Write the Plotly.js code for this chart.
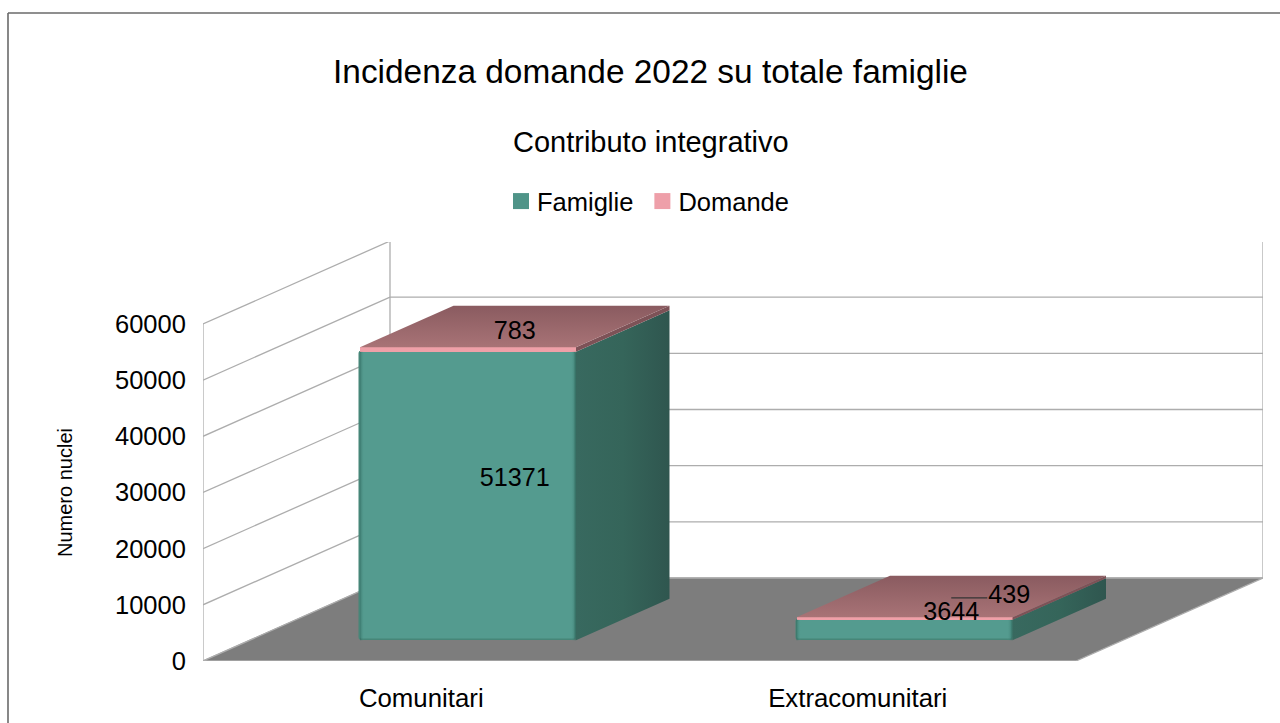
<!DOCTYPE html>
<html>
<head>
<meta charset="utf-8">
<script src="https://cdn.plot.ly/plotly-3.0.1.min.js"></script>
<style>html,body{margin:0;padding:0;background:#fff}#chart{width:1280px;height:723px}
.legend .legendpoints{transform:translateX(4px)}</style>
</head>
<body>
<div id="chart"></div>
<script>
// ---- data ----
const categories = ['Comunitari', 'Extracomunitari'];
const famiglie = [51371, 3644];
const domande = [783, 439];
const seriesNames = ['Famiglie', 'Domande'];
const tickValues = [0, 10000, 20000, 30000, 40000, 50000, 60000];
const titleText = 'Incidenza domande 2022 su totale famiglie';
const subtitleText = 'Contributo integrativo';
const yTitleText = 'Numero nuclei';

// ---- oblique projection (plot area in px, depth in axis units) ----
const L = 203, R = 17, T = 242, B = 62, W = 1280, H = 723;
const plotW = W - L - R, plotH = H - T - B;
const pxPerCat = 436.5, pxPer60k = 337;
const pxX = p => p / pxPerCat;                  // px -> x units
const pxY = p => p / pxPer60k * 60000;          // px -> y units
const depthX = pxX(187), depthY = pxY(83);      // full floor depth
const xMaxFloor = categories.length;
const barW = 216 / pxPerCat;
const fFront = 0.25, fBack = 0.75;              // bar position inside depth

const teal = '#549b8f', pink = '#efa0a8';
const cx = categories.map((c, i) => i + 0.5 + fFront * depthX);
const y0 = fFront * depthY;
const bd = (fBack - fFront);

// ---- back / side walls and floor, under the bars ----
const grid = {color: '#adadad', width: 1.3};
const shapes = [];
const seg = (x0, a, x1, b) => shapes.push({type: 'line', xref: 'x', yref: 'y', layer: 'below', x0, y0: a, x1, y1: b, line: grid});
const topV = tickValues[tickValues.length - 1];
tickValues.forEach(v => {
  seg(0, v, depthX, v + depthY);
  seg(depthX, v + depthY, xMaxFloor + depthX, v + depthY);
});
seg(depthX, depthY, depthX, topV + depthY);
seg(xMaxFloor + depthX, depthY, xMaxFloor + depthX, topV + depthY);
shapes.push({type: 'path', xref: 'x', yref: 'y', layer: 'below',
  path: `M0,0 L${xMaxFloor},0 L${xMaxFloor + depthX},${depthY} L${depthX},${depthY} Z`,
  fillcolor: '#7d7d7d', line: grid});
// outer chart frame (open on the right and bottom, as in the picture)
const frame = {color: '#6a6a6a', width: 1.6};
const px2paperX = p => (p - L) / plotW, px2paperY = p => (H - B - p) / plotH;
shapes.push({type: 'line', xref: 'paper', yref: 'paper', x0: px2paperX(8), x1: px2paperX(8), y0: px2paperY(H), y1: px2paperY(13), line: frame});
shapes.push({type: 'line', xref: 'paper', yref: 'paper', x0: px2paperX(8), x1: px2paperX(W), y0: px2paperY(13), y1: px2paperY(13), line: frame});

// ---- traces ----
const traces = [];
// front faces: real bars through the library's scale
traces.push({type: 'bar', x: cx, y: famiglie, base: categories.map(() => y0), width: barW,
  marker: {color: teal, cornerradius: 3, line: {color: '#468678', width: 1.5}}, showlegend: false, hoverinfo: 'skip'});
traces.push({type: 'bar', x: cx, y: domande, base: famiglie.map(v => y0 + v), width: barW,
  marker: {color: pink, line: {width: 0}}, showlegend: false, hoverinfo: 'skip'});

const poly = (xs, ys, grad, fill) => {
  const t = {type: 'scatter', mode: 'lines', x: xs.concat(xs[0]), y: ys.concat(ys[0]), fill: 'toself',
    line: {width: 0}, showlegend: false, hoverinfo: 'skip'};
  if (grad) t.fillgradient = grad; else t.fillcolor = fill;
  traces.push(t);
};
const sideGrad = {type: 'horizontal', colorscale: [[0, '#38695f'], [0.5, '#35655a'], [1, '#2f564f']]};
const topGrad = {type: 'vertical', colorscale: [[0, '#a87376'], [1, '#8a5b60']]};
const edgeGrad = {type: 'horizontal', colorscale: [[0, 'rgba(40,95,85,0.55)'], [0.02, 'rgba(84,155,143,0)'], [0.975, 'rgba(84,155,143,0)'], [1, 'rgba(40,95,85,0.6)']]};
categories.forEach((c, i) => {
  const xl = cx[i] - barW / 2, xr = cx[i] + barW / 2;
  const top1 = y0 + famiglie[i], top2 = top1 + domande[i];
  const ddx = bd * depthX, ddy = bd * depthY;
  poly([xl, xr, xr, xl], [y0, y0, top1, top1], edgeGrad);                                   // front face bevel
  poly([xr, xr + ddx, xr + ddx, xr], [y0, y0 + ddy, top1 + ddy, top1], sideGrad);           // side, Famiglie
  poly([xr, xr + ddx, xr + ddx, xr], [top1, top1 + ddy, top2 + ddy, top2], null, '#7d5257'); // side, Domande
  poly([xl, xr, xr + ddx, xl + ddx], [top2, top2, top2 + ddy, top2 + ddy], topGrad);        // top
});

// data labels, placed at the centre of each 3D block
const midX = cx.map(v => v + bd * depthX / 2);
const midFam = famiglie.map(v => y0 + v / 2 + bd * depthY / 2);
const midDom = famiglie.map((v, i) => y0 + v + domande[i] / 2 + bd * depthY / 2);
const moved = 1; // second Domande label was moved aside by the source chart
const shiftX = pxX(58), shiftY = pxY(5), leaderEnd = pxX(36), textNudge = pxY(4);
traces.push({type: 'scatter', mode: 'lines', x: [midX[moved], midX[moved] + leaderEnd], y: [midDom[moved], midDom[moved]],
  line: {color: '#333333', width: 1.2}, showlegend: false, hoverinfo: 'skip', cliponaxis: false});
const textFont = {family: 'Liberation Sans', size: 25.2, color: '#000'};
traces.push({type: 'scatter', mode: 'text', x: midX, y: midFam.map(v => v - textNudge), text: famiglie.map(String), textposition: 'middle center',
  textfont: textFont, cliponaxis: false, showlegend: false, hoverinfo: 'skip'});
traces.push({type: 'scatter', mode: 'text',
  x: midX.map((v, i) => i === moved ? v + shiftX : v),
  y: midDom.map((v, i) => (i === moved ? v + shiftY : v) - textNudge),
  text: domande.map(String), textposition: 'middle center', textfont: textFont, cliponaxis: false, showlegend: false, hoverinfo: 'skip'});

// visible value axis and its line
traces.push({type: 'scatter', mode: 'lines', x: [0, 0], y: [0, topV], yaxis: 'y2',
  line: {color: '#adadad', width: 1.3}, showlegend: false, hoverinfo: 'skip', cliponaxis: false});

// legend entries
[['#4f9488', seriesNames[0]], ['#ee9fa9', seriesNames[1]]].forEach(([col, name]) => {
  traces.push({type: 'scatter', mode: 'markers', x: [null], y: [null], name,
    marker: {symbol: 'square', size: 16, color: col}, hoverinfo: 'skip'});
});

const layout = {
  width: W, height: H, autosize: false,
  margin: {l: L, r: R, t: T, b: B, pad: 0},
  paper_bgcolor: '#fff', plot_bgcolor: 'rgba(0,0,0,0)',
  font: {family: 'Liberation Sans', color: '#000'},
  barmode: 'overlay', bargap: 0,
  title: {text: titleText, font: {size: 33.4, color: '#000'}, x: 650.5 / W, xref: 'container', xanchor: 'center',
    y: 1 - 71 / H, yref: 'container', yanchor: 'middle'},
  xaxis: {range: [0, plotW / pxPerCat], tickmode: 'array', tickvals: categories.map((c, i) => i + 0.5), ticktext: categories,
    showgrid: false, zeroline: false, showline: false, ticks: 'outside', ticklen: 14, tickcolor: 'rgba(0,0,0,0)',
    tickfont: {size: 25.8}, fixedrange: true},
  yaxis: {range: [0, plotH / pxPer60k * 60000], visible: false, domain: [0, 1], fixedrange: true},
  yaxis2: {domain: [0, pxPer60k / plotH], range: [0, topV], anchor: 'x', side: 'left', tickmode: 'array', tickvals: tickValues,
    ticktext: tickValues.map(String),
    showgrid: false, zeroline: false, showline: false, ticks: 'outside', ticklen: 11, tickcolor: 'rgba(0,0,0,0)',
    tickfont: {size: 25.5}, title: {text: yTitleText, font: {size: 20}, standoff: 36}, fixedrange: true},
  legend: {orientation: 'h', x: px2paperX(497), xanchor: 'left', y: px2paperY(201.5), yanchor: 'middle',
    font: {size: 25.5}, bgcolor: 'rgba(0,0,0,0)', itemclick: false, itemdoubleclick: false},
  shapes,
  annotations: [{text: subtitleText, xref: 'paper', yref: 'paper', x: px2paperX(650.5), y: px2paperY(142),
    xanchor: 'center', yanchor: 'middle', showarrow: false, font: {size: 29, color: '#000'}}]
};
Plotly.newPlot('chart', traces, layout, {displayModeBar: false, responsive: false});
</script>
</body>
</html>
